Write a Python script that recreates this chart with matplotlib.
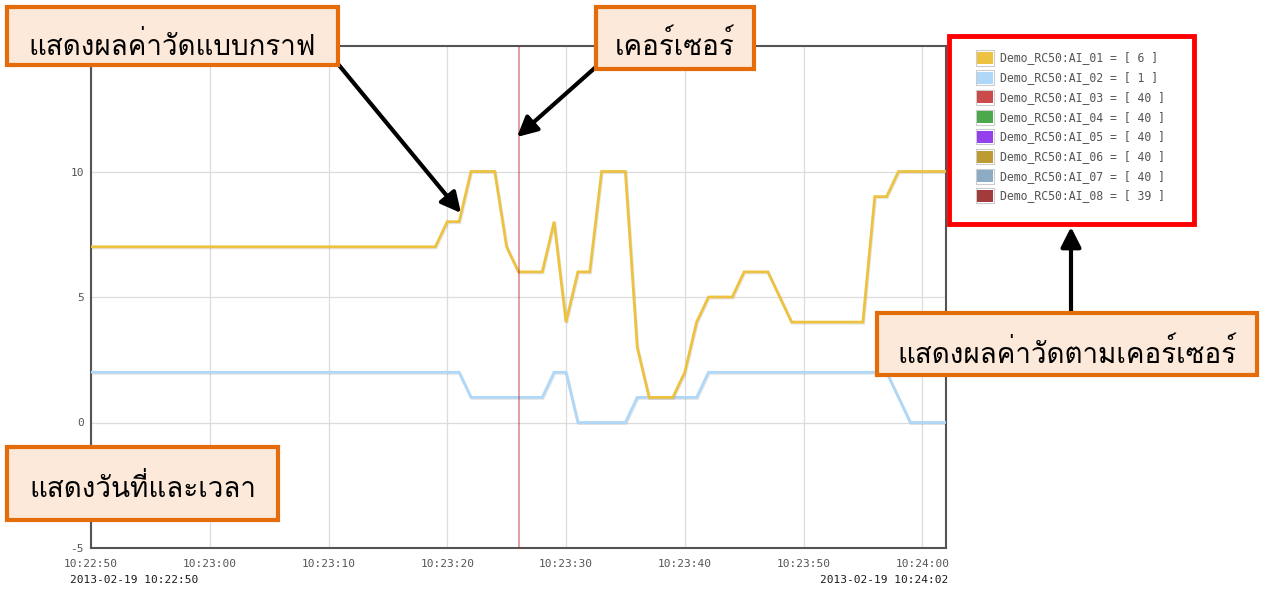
import datetime as dt
import numpy as np
import matplotlib
matplotlib.use("Agg")
import matplotlib.pyplot as plt
import matplotlib.dates as mdates
import matplotlib.patheffects as pe
from matplotlib.patches import Rectangle, FancyArrowPatch
from matplotlib import font_manager
from matplotlib.ft2font import FT2Font

# ---------------- data ----------------
start_time = dt.datetime(2013, 2, 19, 10, 22, 50)
span_seconds = 72
cursor_second = 36

ai01_seconds = [0, 29, 30, 31, 32, 34, 35, 36, 38, 39, 40, 41, 42, 43, 45, 46, 47,
                49, 50, 51, 52, 54, 55, 57, 59, 65, 66, 67, 68, 72]
ai01_values = [7, 7, 8, 8, 10, 10, 7, 6, 6, 8, 4, 6, 6, 10, 10, 3, 1,
               1, 2, 4, 5, 5, 6, 6, 4, 4, 9, 9, 10, 10]

ai02_seconds = [0, 31, 32, 38, 39, 40, 41, 45, 46, 51, 52, 67, 69, 72]
ai02_values = [2, 2, 1, 1, 2, 2, 0, 0, 1, 1, 2, 2, 0, 0]

series_names = ["Demo_RC50:AI_01", "Demo_RC50:AI_02", "Demo_RC50:AI_03",
                "Demo_RC50:AI_04", "Demo_RC50:AI_05", "Demo_RC50:AI_06",
                "Demo_RC50:AI_07", "Demo_RC50:AI_08"]
series_colors = ["#EDC240", "#AFD8F8", "#CB4B4B", "#4DA74D",
                 "#9440ED", "#BD9B33", "#8CACC6", "#A23C3C"]
# readings of the off-scale channels at the cursor
other_cursor_values = [40, 40, 40, 40, 40, 39]

y_ticks = [-5, 0, 5, 10]

label_graph = "แสดงผลค่าวัดแบบกราฟ"
label_cursor = "เคอร์เซอร์"
label_readout = "แสดงผลค่าวัดตามเคอร์เซอร์"
label_datetime = "แสดงวันที่และเวลา"

# ---------------- fonts ----------------
def family_with(char, fallback="DejaVu Sans"):
    for entry in font_manager.fontManager.ttflist:
        try:
            if ord(char) in FT2Font(entry.fname).get_charmap():
                return entry.name
        except Exception:
            continue
    return fallback

thai_family = family_with("ก")
thai_fonts = [thai_family, "DejaVu Sans"]
mono = "DejaVu Sans Mono"
plt.rcParams["axes.unicode_minus"] = False

# ---------------- figure ----------------
W, H = 1261, 589
fig = plt.figure(figsize=(W / 100, H / 100), dpi=100)
fig.patch.set_facecolor("white")


def fx(x):
    return x / W


def fy(y):
    return 1 - y / H


ax_left, ax_right, ax_top, ax_bottom = 91, 946, 46, 548
ax = fig.add_axes([fx(ax_left), fy(ax_bottom), (ax_right - ax_left) / W,
                   (ax_bottom - ax_top) / H])


def to_times(seconds):
    return [start_time + dt.timedelta(seconds=s) for s in seconds]


shadow = [pe.SimpleLineShadow(offset=(0.6, -0.8), shadow_color="#000000", alpha=0.10),
          pe.Normal()]

ax.plot(to_times(ai02_seconds), ai02_values, color=series_colors[1], lw=2.0,
        solid_joinstyle="miter", path_effects=shadow, zorder=3)
ax.plot(to_times(ai01_seconds), ai01_values, color=series_colors[0], lw=2.0,
        solid_joinstyle="miter", path_effects=shadow, zorder=4)

cursor_time = start_time + dt.timedelta(seconds=cursor_second)
ax.axvline(cursor_time, color=(170 / 255, 0, 0, 0.4), lw=1.3, zorder=5)

ax.set_xlim(start_time, start_time + dt.timedelta(seconds=span_seconds))
ax.set_ylim(-5, 15)
ax.set_yticks(y_ticks)
ax.xaxis.set_major_locator(mdates.SecondLocator(bysecond=range(0, 60, 10)))
ax.xaxis.set_major_formatter(mdates.DateFormatter("%H:%M:%S"))
ax.grid(True, color="#dcdcdc", lw=0.9)
ax.set_axisbelow(True)
ax.tick_params(axis="both", length=0, labelsize=8, labelcolor="#545454")
ax.tick_params(axis="x", pad=8)
ax.tick_params(axis="y", pad=5)
for lab in ax.get_xticklabels() + ax.get_yticklabels():
    lab.set_family(mono)
for side in ax.spines.values():
    side.set_color("#545454")
    side.set_linewidth(1.5)

# date range under the axis
end_time = start_time + dt.timedelta(seconds=span_seconds)
fig.text(fx(70), fy(580), start_time.strftime("%Y-%m-%d %H:%M:%S"), family=mono,
         fontsize=8, color="#1a1a1a", ha="left", va="center")
fig.text(fx(948), fy(580), end_time.strftime("%Y-%m-%d %H:%M:%S"), family=mono,
         fontsize=8, color="#1a1a1a", ha="right", va="center")

# ---------------- cursor readout panel ----------------
cursor_values = [int(round(np.interp(cursor_second, ai01_seconds, ai01_values))),
                 int(round(np.interp(cursor_second, ai02_seconds, ai02_values)))]
cursor_values += other_cursor_values

fig.patches.append(Rectangle((fx(948.5), fy(223.5)), (1193.5 - 948.5) / W,
                             (223.5 - 35.5) / H, transform=fig.transFigure,
                             facecolor="white", edgecolor="#FF0000", lw=3.5,
                             zorder=6))
row0, row_step = 58, 19.7
for i, (name, val, col) in enumerate(zip(series_names, cursor_values, series_colors)):
    yc = row0 + i * row_step
    fig.patches.append(Rectangle((fx(975.5), fy(yc + 7.5)), 19 / W, 15 / H,
                                 transform=fig.transFigure, facecolor="white",
                                 edgecolor="#cccccc", lw=0.8, zorder=7))
    fig.patches.append(Rectangle((fx(977), fy(yc + 6)), 16 / W, 12 / H,
                                 transform=fig.transFigure, facecolor=col,
                                 edgecolor="none", zorder=8))
    fig.text(fx(1000), fy(yc), f"{name} = [ {val} ]", family=mono, fontsize=8.3,
             color="#545454", ha="left", va="center", zorder=9)

# ---------------- call-out boxes ----------------
ORANGE = "#E46C0A"
PEACH = "#FDE9D9"


def callout(x0, y0, x1, y1, text, baseline, size):
    fig.patches.append(Rectangle((fx(x0), fy(y1)), (x1 - x0) / W, (y1 - y0) / H,
                                 transform=fig.transFigure, facecolor=PEACH,
                                 edgecolor=ORANGE, lw=3, zorder=10))
    fig.text(fx((x0 + x1) / 2), fy(baseline), text, family=thai_fonts,
             fontsize=size, color="black", ha="center", va="baseline", zorder=11)


def pointer(x0, y0, x1, y1):
    fig.patches.append(FancyArrowPatch((fx(x0), fy(y0)), (fx(x1), fy(y1)),
                                       transform=fig.transFigure,
                                       arrowstyle="-|>,head_length=0.75,head_width=0.38",
                                       mutation_scale=16, lw=3, color="black",
                                       shrinkA=0, shrinkB=0, zorder=9))


pointer(338, 64, 461, 213)
pointer(597, 66, 517, 137)
pointer(1071, 312, 1071, 227)

callout(7, 7, 338, 65, label_graph, 55, 20)
callout(596, 7, 754, 69, label_cursor, 55, 20)
callout(877, 313, 1257, 375, label_readout, 363, 20)
callout(7, 447, 278, 520, label_datetime, 497, 20)

fig.savefig("out.png", dpi=100)
